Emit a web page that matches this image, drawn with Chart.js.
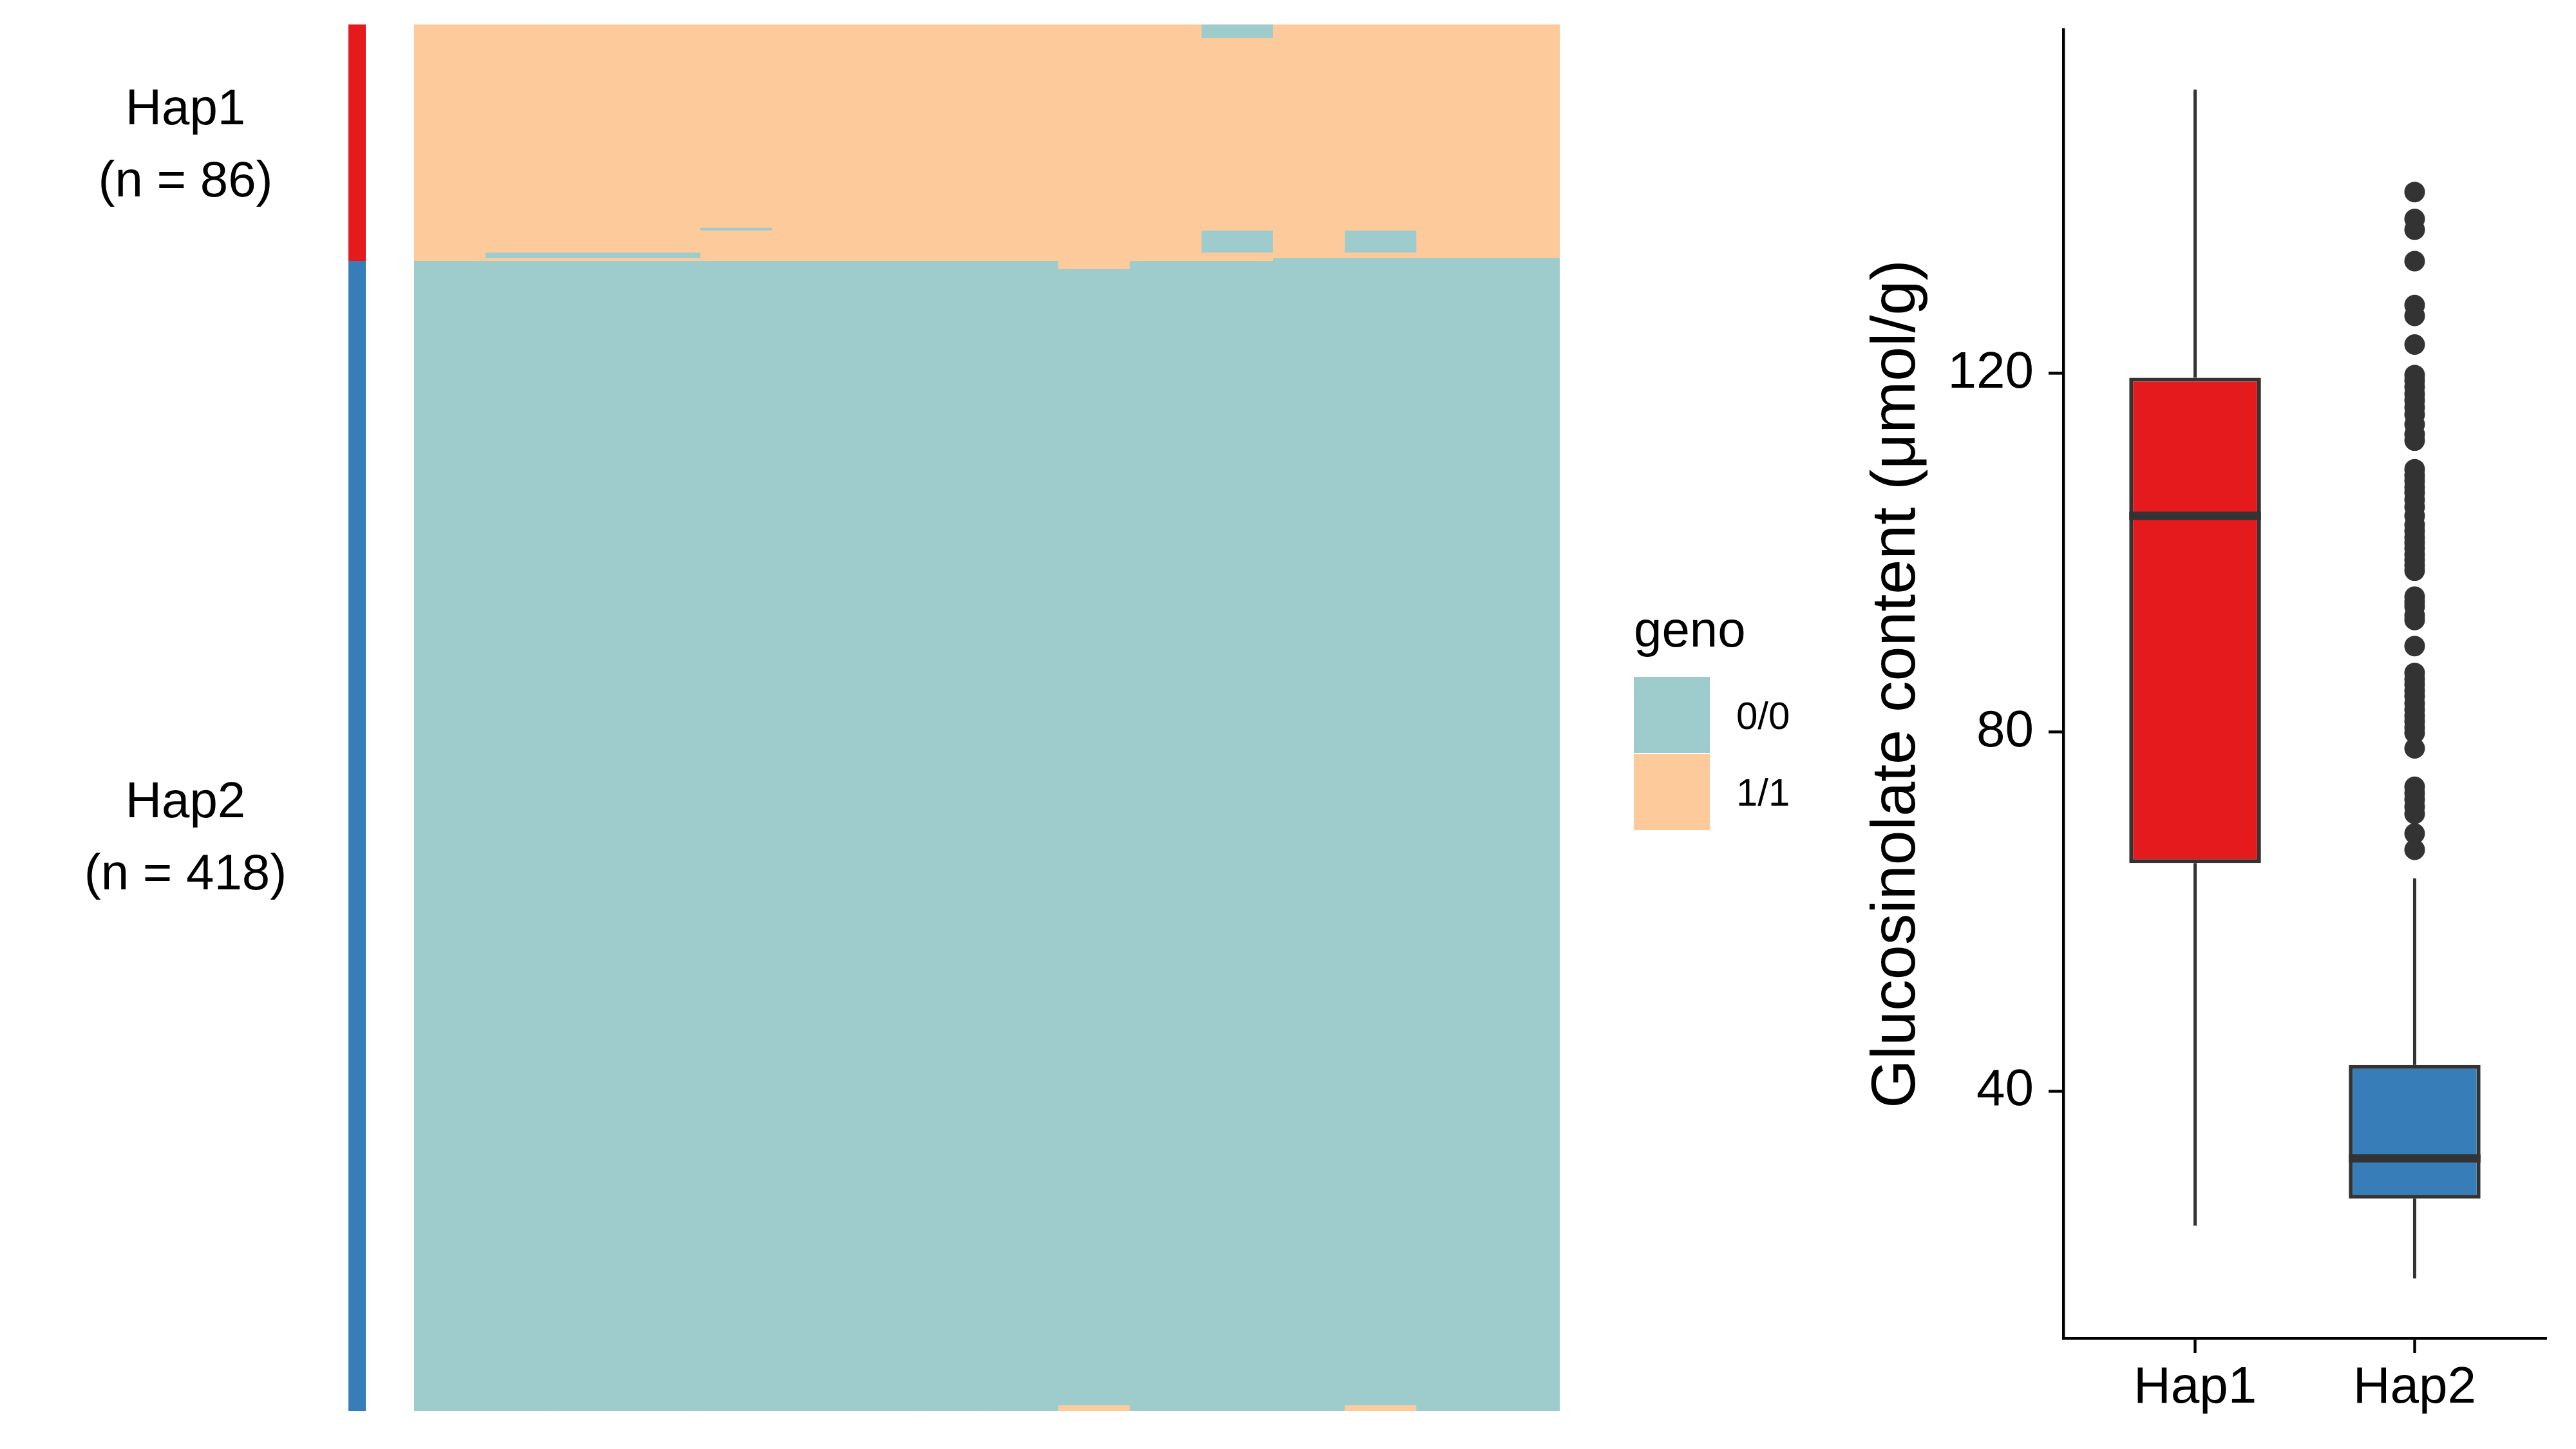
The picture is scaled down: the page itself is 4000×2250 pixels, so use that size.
<!DOCTYPE html>
<html>
<head>
<meta charset="utf-8">
<script src="https://cdn.jsdelivr.net/npm/chart.js@4.4.1/dist/chart.umd.min.js"></script>
<style>
  html, body { margin: 0; padding: 0; background: #ffffff; }
  body { width: 4000px; height: 2250px; position: relative; overflow: hidden;
         font-family: "Liberation Sans", Arial, sans-serif; color: #000; }
  .abs { position: absolute; }
  canvas { display: block; }
  .hapLabel { position: absolute; width: 500px; text-align: center; font-size: 78px; line-height: 112px; white-space: nowrap; }
  .legTitle { position: absolute; font-size: 78px; line-height: 78px; white-space: nowrap; }
  .legText { position: absolute; font-size: 60px; line-height: 60px; white-space: nowrap; }
  .legKey { position: absolute; width: 118px; height: 118px; }
</style>
</head>
<body>
<div class="abs" style="left:541px;top:38px;width:27px;height:2153px"><canvas id="cSide" width="27" height="2153"></canvas></div>
<div class="abs" style="left:643px;top:38px;width:1779px;height:2153px"><canvas id="cHeat" width="1779" height="2153"></canvas></div>
<div class="abs" style="left:2860px;top:0px;width:1140px;height:2250px"><canvas id="cBox" width="1140" height="2250"></canvas></div>

<div class="legTitle" style="left:2537px;top:938px">geno</div>
<div class="legKey" id="key00" style="left:2537px;top:1051px"></div>
<div class="legKey" id="key11" style="left:2537px;top:1171px"></div>
<div class="legText" style="left:2696px;top:1082px">0/0</div>
<div class="legText" style="left:2696px;top:1201px">1/1</div>

<script>
// ---------------- DATA ----------------
const hapNames  = ['Hap1', 'Hap2'];
const hapCounts = [86, 418];
const hapColors = ['#E41A1C', '#377EB8'];

const snpLabels = ['SNP1','SNP2','SNP3','SNP4','SNP5','SNP6','SNP7','SNP8',
                   'SNP9','SNP10','SNP11','SNP12','SNP13','SNP14','SNP15','SNP16'];
const genoLevels = ['0/0', '1/1'];
const genoColors = { '0/0': '#9ECCCC', '1/1': '#FDCB9B' };

// genotype runs per SNP column (rows ordered Hap1 first): [firstRow, lastRow, genotype]
const genoRuns = [
  [[0,85,'1/1'],[86,503,'0/0']],
  [[0,82,'1/1'],[83,84,'0/0'],[85,85,'1/1'],[86,503,'0/0']],
  [[0,82,'1/1'],[83,84,'0/0'],[85,85,'1/1'],[86,503,'0/0']],
  [[0,82,'1/1'],[83,84,'0/0'],[85,85,'1/1'],[86,503,'0/0']],
  [[0,73,'1/1'],[74,74,'0/0'],[75,85,'1/1'],[86,503,'0/0']],
  [[0,85,'1/1'],[86,503,'0/0']],
  [[0,85,'1/1'],[86,503,'0/0']],
  [[0,85,'1/1'],[86,503,'0/0']],
  [[0,85,'1/1'],[86,503,'0/0']],
  [[0,88,'1/1'],[89,501,'0/0'],[502,503,'1/1']],
  [[0,85,'1/1'],[86,503,'0/0']],
  [[0,4,'0/0'],[5,74,'1/1'],[75,82,'0/0'],[83,85,'1/1'],[86,503,'0/0']],
  [[0,84,'1/1'],[85,503,'0/0']],
  [[0,74,'1/1'],[75,82,'0/0'],[83,84,'1/1'],[85,501,'0/0'],[502,503,'1/1']],
  [[0,84,'1/1'],[85,503,'0/0']],
  [[0,84,'1/1'],[85,503,'0/0']]
];

// boxplot statistics (Glucosinolate content, umol/g)
const whiskerLow  = [25.0, 19.1];
const quart1      = [65.4, 28.0];
const medians     = [104.1, 32.5];
const quart3      = [119.5, 42.9];
const whiskerHigh = [151.6, 63.7];
const hap2Outliers = [140.2, 137.2, 136.0, 132.5, 127.6, 126.4, 123.2,
  119.8, 119.2, 118.5, 117.7, 117.0, 116.2, 115.4, 114.3, 113.2, 112.5,
  109.3, 108.6, 108.0, 107.3, 106.7, 105.9, 105.1, 104.1, 103.1, 102.4, 101.7, 101.1, 100.5, 99.8, 99.2, 98.6, 98.0,
  95.1, 94.5, 94.0, 93.0, 92.5, 89.6,
  86.6, 85.9, 85.3, 84.6, 84.0, 83.2, 82.5, 81.8, 81.2, 80.5, 79.9, 78.2,
  73.9, 73.2, 72.5, 71.7, 70.9, 68.7, 66.9];
const yTicks = [40, 80, 120];
const yRange = [12.45, 158.3];

// ---------------- CHARTS ----------------
Chart.defaults.font.family = '"Liberation Sans", Arial, sans-serif';
Chart.defaults.color = '#000000';
const totalRows = hapCounts.reduce((a, b) => a + b, 0);

// legend swatches
document.getElementById('key00').style.background = genoColors['0/0'];
document.getElementById('key11').style.background = genoColors['1/1'];

// ---- sidebar (haplotype annotation) ----
const sideData = [];
let acc = 0;
hapCounts.forEach((n, i) => { sideData.push({ x: 'hap', y: [acc, acc + n], c: hapColors[i] }); acc += n; });
const sideChart = new Chart(document.getElementById('cSide'), {
  type: 'bar',
  data: { labels: ['hap'], datasets: [{
    data: sideData,
    backgroundColor: ctx => ctx.raw ? ctx.raw.c : '#000',
    borderWidth: 0, categoryPercentage: 1, barPercentage: 1
  }]},
  options: {
    responsive: false, animation: false, devicePixelRatio: 1,
    layout: { padding: 0 },
    plugins: { legend: { display: false }, tooltip: { enabled: false } },
    scales: {
      x: { display: false, stacked: true },
      y: { display: false, min: 0, max: totalRows, reverse: true }
    }
  }
});

// ---- heatmap ----
const heatData = [];
genoRuns.forEach((runs, c) => {
  runs.forEach(r => heatData.push({ x: snpLabels[c], y: [r[0], r[1] + 1], g: r[2] }));
});
new Chart(document.getElementById('cHeat'), {
  type: 'bar',
  data: { labels: snpLabels, datasets: [{
    data: heatData,
    backgroundColor: ctx => ctx.raw ? genoColors[ctx.raw.g] : '#000',
    borderWidth: 0, categoryPercentage: 1, barPercentage: 1
  }]},
  options: {
    responsive: false, animation: false, devicePixelRatio: 1,
    layout: { padding: 0 },
    plugins: { legend: { display: false }, tooltip: { enabled: false } },
    scales: {
      x: { display: false, stacked: true },
      y: { display: false, min: 0, max: totalRows, reverse: true }
    }
  }
});

// ---- boxplot ----
const boxPlugin = {
  id: 'boxParts',
  beforeDatasetsDraw(chart) {
    const { ctx, scales: { x, y } } = chart;
    ctx.save();
    ctx.strokeStyle = '#333333';
    ctx.lineWidth = 5;
    hapNames.forEach((n, i) => {
      const px = x.getPixelForValue(i + 1);
      ctx.beginPath();
      ctx.moveTo(px, y.getPixelForValue(quart3[i]));
      ctx.lineTo(px, y.getPixelForValue(whiskerHigh[i]));
      ctx.moveTo(px, y.getPixelForValue(quart1[i]));
      ctx.lineTo(px, y.getPixelForValue(whiskerLow[i]));
      ctx.stroke();
    });
    ctx.restore();
  },
  afterDatasetsDraw(chart) {
    const { ctx, scales: { y } } = chart;
    const meta = chart.getDatasetMeta(0);
    ctx.save();
    ctx.strokeStyle = '#333333';
    ctx.lineWidth = 13;
    meta.data.forEach((bar, i) => {
      const { x, width } = bar.getProps(['x', 'width'], true);
      const py = y.getPixelForValue(medians[i]);
      ctx.beginPath();
      ctx.moveTo(x - width / 2, py);
      ctx.lineTo(x + width / 2, py);
      ctx.stroke();
    });
    ctx.restore();
  }
};

new Chart(document.getElementById('cBox'), {
  type: 'bar',
  data: {
    datasets: [
      {
        type: 'bar',
        data: hapNames.map((n, i) => ({ x: i + 1, y: [quart1[i], quart3[i]] })),
        backgroundColor: hapColors,
        borderColor: '#333333', borderWidth: 6, borderSkipped: false,
        categoryPercentage: 1, barPercentage: 0.6
      },
      {
        type: 'scatter',
        data: hap2Outliers.map(v => ({ x: 2, y: v })),
        backgroundColor: '#333333', borderWidth: 0, pointRadius: 16
      }
    ]
  },
  options: {
    responsive: false, animation: false, devicePixelRatio: 1,
    layout: { padding: { top: 46, right: 46, left: 0, bottom: 0 } },
    plugins: { legend: { display: false }, tooltip: { enabled: false } },
    scales: {
      x: {
        type: 'linear', min: 0.4, max: 2.6, offset: false,
        afterBuildTicks: s => { s.ticks = hapNames.map((n, i) => ({ value: i + 1 })); },
        afterFit: s => { s.height = 172; s.paddingLeft = 0; s.paddingRight = 0; },
        ticks: { font: { size: 80 }, padding: 7, color: '#000', maxRotation: 0,
                 callback: v => hapNames[v - 1] },
        grid: { offset: false, drawOnChartArea: false, drawTicks: true, tickLength: 23, tickWidth: 4.4, tickColor: '#000' },
        border: { display: true, color: '#000', width: 4.4 }
      },
      y: {
        type: 'linear', min: yRange[0], max: yRange[1],
        afterBuildTicks: s => { s.ticks = yTicks.map(v => ({ value: v })); },
        afterFit: s => { s.width = 344; s.paddingTop = 0; s.paddingBottom = 0; },
        ticks: { font: { size: 80 }, padding: 23, color: '#000' },
        grid: { offset: false, drawOnChartArea: false, drawTicks: true, tickLength: 23, tickWidth: 4.4, tickColor: '#000' },
        border: { display: true, color: '#000', width: 4.4 },
        title: { display: true, text: 'Glucosinolate content (μmol/g)', font: { size: 97 },
                 color: '#000', padding: { top: 28, bottom: 0 } }
      }
    }
  },
  plugins: [boxPlugin]
});

// ---- haplotype labels, centred on their annotation bands ----
const sideTop = 38;
const ys = sideChart.scales.y;
let startRow = 0;
hapNames.forEach((name, i) => {
  const a = ys.getPixelForValue(startRow), b = ys.getPixelForValue(startRow + hapCounts[i]);
  const mid = sideTop + (a + b) / 2;
  const d = document.createElement('div');
  d.className = 'hapLabel';
  d.style.left = (288 - 250) + 'px';
  d.style.top = (mid - 112) + 'px';
  d.innerHTML = name + '<br>(n = ' + hapCounts[i] + ')';
  document.body.appendChild(d);
  startRow += hapCounts[i];
});
</script>
</body>
</html>
